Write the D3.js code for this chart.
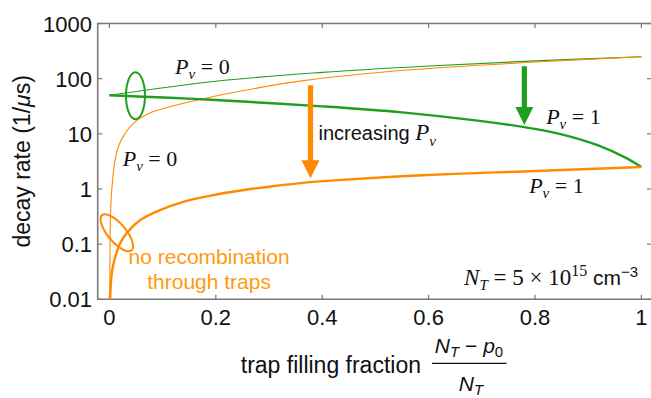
<!DOCTYPE html>
<html><head><meta charset="utf-8">
<script src="https://cdn.jsdelivr.net/npm/d3@7"></script>
<style>body{margin:0;background:#fff}svg{display:block}</style>
</head><body><svg id="c" width="651" height="398"></svg>
<script>
// ---- data ----
const xTicks = [0, 0.2, 0.4, 0.6, 0.8, 1];
const xTickLabels = ["0", "0.2", "0.4", "0.6", "0.8", "1"];
const yTicks = [0.01, 0.1, 1, 10, 100, 1000];
const yTickLabels = ["0.01", "0.1", "1", "10", "100", "1000"];

const greenPv0X = [0, 0.2, 0.4, 0.6, 0.8, 1];
const greenPv0Y = [50, 90, 130, 170, 210, 250];
const greenPv1X = [0, 0.114, 0.2, 0.4, 0.55, 0.7, 0.78, 0.85, 0.92, 0.97, 1];
const greenPv1Y = [50, 45, 41, 31.5, 24.5, 17, 13.2, 9.8, 6.1, 3.7, 2.5];
const orangePv0X = [0.0008, 0.0012, 0.002, 0.0032, 0.0064, 0.011, 0.017, 0.026, 0.045, 0.077, 0.108, 0.17, 0.24, 0.365, 0.565, 0.8, 1];
const orangePv0Y = [0.01, 0.1, 0.3, 0.63, 1.6, 3.5, 5.9, 9, 15.5, 24, 30, 42, 58, 92, 145, 200, 250];
const orangePv1X = [0.0013, 0.0045, 0.011, 0.02, 0.033, 0.058, 0.095, 0.139, 0.19, 0.25, 0.3, 0.378, 0.43, 0.55, 0.65, 0.78, 0.9, 1];
const orangePv1Y = [0.01, 0.03, 0.059, 0.103, 0.161, 0.273, 0.415, 0.586, 0.76, 0.95, 1.1, 1.33, 1.45, 1.7, 1.88, 2.08, 2.3, 2.5];

// ---- setup ----
const GREEN = "#1f9f1f", ORANGE = "#ff8a00", ORANGE_T = "#ff9a10", FRAME = "#7a7a7a";
const SANS = "'Liberation Sans', Arial, Helvetica, sans-serif";
const SERIF = "'Liberation Serif', 'Times New Roman', serif";
const svg = d3.select("#c");
const x = d3.scaleLinear().domain([-0.022, 1.019]).range([97.7, 651.5]);
const y = d3.scaleLog().domain([0.01, 1000]).range([299.3, 23.5]);

const line = d3.line().x(d => x(d[0])).y(d => y(d[1])).curve(d3.curveCatmullRom.alpha(0.5));
function series(xs, ys, color, w) {
  svg.append("path").datum(xs.map((v, i) => [v, ys[i]]))
    .attr("d", line).attr("fill", "none").attr("stroke", color)
    .attr("stroke-width", w).attr("stroke-linejoin", "round");
}

// ---- frame & ticks ----
const fr = svg.append("g");
const L = x.range()[0], R = x.range()[1], T = y.range()[1], B = y.range()[0];
fr.append("path").attr("d", `M${R},${T}H${L}V${B}H${R}`).attr("fill", "none")
  .attr("stroke", FRAME).attr("stroke-width", 1.6);
xTicks.forEach(t => {
  fr.append("line").attr("x1", x(t)).attr("x2", x(t)).attr("y1", B).attr("y2", B - 4.5).attr("stroke", FRAME).attr("stroke-width", 1.2);
  fr.append("line").attr("x1", x(t)).attr("x2", x(t)).attr("y1", T).attr("y2", T + 4.5).attr("stroke", FRAME).attr("stroke-width", 1.2);
});
yTicks.forEach(t => {
  fr.append("line").attr("x1", L).attr("x2", L + 4.5).attr("y1", y(t)).attr("y2", y(t)).attr("stroke", FRAME).attr("stroke-width", 1.2);
  fr.append("line").attr("x1", R - 4.5).attr("x2", R).attr("y1", y(t)).attr("y2", y(t)).attr("stroke", FRAME).attr("stroke-width", 1.2);
});
xTicks.forEach((t, i) => {
  svg.append("text").attr("x", x(t)).attr("y", B + 26).attr("text-anchor", "middle")
    .attr("font-family", SANS).attr("font-size", 22).attr("fill", "#111").text(xTickLabels[i]);
});
yTicks.forEach((t, i) => {
  svg.append("text").attr("x", 92).attr("y", y(t) + 8).attr("text-anchor", "end")
    .attr("font-family", SANS).attr("font-size", 22).attr("fill", "#111").text(yTickLabels[i]);
});

// ---- curves ----
series(greenPv0X, greenPv0Y, GREEN, 1.1);
series(orangePv0X, orangePv0Y, ORANGE, 1.1);
series(greenPv1X, greenPv1Y, GREEN, 2.4);
series(orangePv1X, orangePv1Y, ORANGE, 2.4);

// ---- ellipses ----
svg.append("ellipse").attr("cx", x(0.049)).attr("cy", y(49.2)).attr("rx", 9.5).attr("ry", 23.5)
  .attr("fill", "none").attr("stroke", GREEN).attr("stroke-width", 2);
svg.append("ellipse").attr("rx", 23).attr("ry", 9)
  .attr("transform", `translate(${x(0.014)},${y(0.161)}) rotate(50)`)
  .attr("fill", "none").attr("stroke", ORANGE).attr("stroke-width", 2);

// ---- arrows ----
function arrow(xv, v0, v1, color) {
  const cx = x(xv), y0 = y(v0), y1 = y(v1), hw = 9, sw = 2.6, hl = 18;
  svg.append("path").attr("d",
    `M${cx - sw},${y0}L${cx + sw},${y0}L${cx + sw},${y1 - hl}L${cx + hw},${y1 - hl}L${cx},${y1}L${cx - hw},${y1 - hl}L${cx - sw},${y1 - hl}Z`)
    .attr("fill", color);
}
arrow(0.378, 76, 1.56, ORANGE);
arrow(0.78, 168, 14.4, GREEN);

// ---- labels ----
function pv(xv, v, val) {
  const t = svg.append("text").attr("x", x(xv)).attr("y", y(v))
    .attr("font-family", SERIF).attr("font-size", 22).attr("fill", "#111");
  t.append("tspan").attr("font-style", "italic").text("P");
  t.append("tspan").attr("font-style", "italic").attr("font-size", 15).attr("dy", 5).text("v");
  t.append("tspan").attr("dy", -5).text(" = " + val);
}
pv(0.1235, 120.6, "0");
pv(0.025, 2.63, "0");
pv(0.821, 15, "1");
pv(0.789, 0.853, "1");

const inc = svg.append("text").attr("x", x(0.393)).attr("y", y(7.69))
  .attr("font-family", SANS).attr("font-size", 20).attr("fill", "#111");
inc.append("tspan").text("increasing ");
inc.append("tspan").attr("font-family", SERIF).attr("font-style", "italic").attr("font-size", 23).text("P");
inc.append("tspan").attr("font-family", SERIF).attr("font-style", "italic").attr("font-size", 15).attr("dy", 6).text("v");

svg.append("text").attr("x", x(0.1874)).attr("y", y(0.0436)).attr("text-anchor", "middle")
  .attr("font-family", SANS).attr("font-size", 21).attr("fill", ORANGE_T).text("no recombination");
svg.append("text").attr("x", x(0.1874)).attr("y", y(0.0152)).attr("text-anchor", "middle")
  .attr("font-family", SANS).attr("font-size", 21).attr("fill", ORANGE_T).text("through traps");

const nt = svg.append("text").attr("x", x(0.994)).attr("y", y(0.0182)).attr("text-anchor", "end")
  .attr("font-family", SERIF).attr("font-size", 23).attr("fill", "#111");
nt.append("tspan").attr("font-style", "italic").text("N");
nt.append("tspan").attr("font-style", "italic").attr("font-size", 15).attr("dy", 5).text("T");
nt.append("tspan").attr("dy", -5).text(" = 5 \u00d7 10");
nt.append("tspan").attr("font-size", 16).attr("dy", -9).text("15");
nt.append("tspan").attr("dy", 9).attr("font-family", SANS).attr("font-size", 21).text(" cm");
nt.append("tspan").attr("dy", -8).attr("font-family", SANS).attr("font-size", 15).text("\u22123");

// ---- axis labels ----
const yl = svg.append("text").attr("transform", `translate(30,${(T + B) / 2}) rotate(-90)`)
  .attr("text-anchor", "middle").attr("font-family", SANS).attr("font-size", 23).attr("fill", "#111");
yl.append("tspan").text("decay rate (1/");
yl.append("tspan").attr("font-style", "italic").text("\u03bc");
yl.append("tspan").text("s)");

svg.append("text").attr("x", 421).attr("y", 373).attr("text-anchor", "end").attr("font-family", SANS).attr("font-size", 23)
  .attr("fill", "#111").text("trap filling fraction");
const num = svg.append("text").attr("x", 469).attr("y", 353).attr("text-anchor", "middle")
  .attr("font-family", SANS).attr("font-size", 21).attr("fill", "#111");
num.append("tspan").attr("font-style", "italic").text("N");
num.append("tspan").attr("font-style", "italic").attr("font-size", 15).attr("dy", 4).text("T");
num.append("tspan").attr("dy", -4).text(" \u2212 ");
num.append("tspan").attr("font-style", "italic").text("p");
num.append("tspan").attr("font-size", 15).attr("dy", 4).text("0");
svg.append("line").attr("x1", 432).attr("x2", 506.5).attr("y1", 363.3).attr("y2", 363.3)
  .attr("stroke", "#111").attr("stroke-width", 1.2);
const den = svg.append("text").attr("x", 471).attr("y", 391).attr("text-anchor", "middle")
  .attr("font-family", SANS).attr("font-size", 21).attr("fill", "#111");
den.append("tspan").attr("font-style", "italic").text("N");
den.append("tspan").attr("font-style", "italic").attr("font-size", 15).attr("dy", 4).text("T");
</script></body></html>
